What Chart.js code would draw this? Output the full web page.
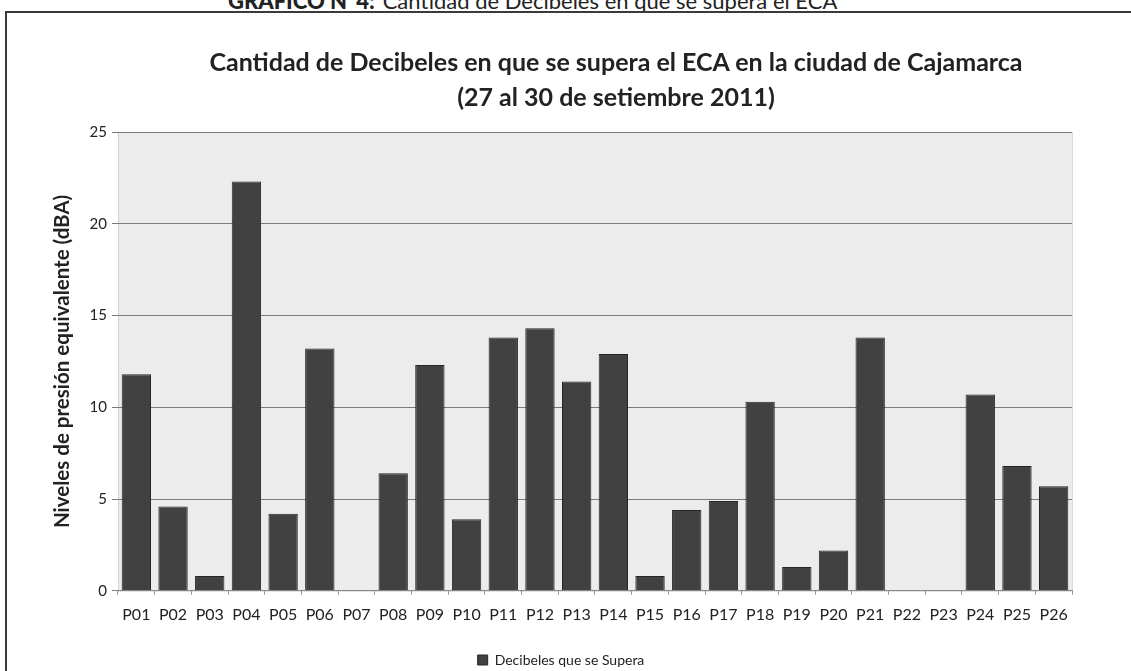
<!DOCTYPE html>
<html>
<head>
<meta charset="utf-8">
<script src="https://cdn.jsdelivr.net/npm/chart.js@4/dist/chart.umd.min.js"></script>
<style>
  html, body { margin: 0; padding: 0; background: #ffffff; overflow: hidden; }
  #wrap { position: relative; width: 1131px; height: 671px; overflow: hidden; }
  #header { position: absolute; left: 228px; top: -13px; font-family: Lato, sans-serif; font-size: 22px; color: #222; white-space: nowrap; }
  #header b { font-weight: 900; margin-right: 8px; }
  #frame { position: absolute; left: 5px; top: 11px; width: 1140px; height: 680px; border: 2px solid #3a3a3a; box-sizing: border-box; }
  #title { position: absolute; left: 116px; width: 1000px; top: 44px; text-align: center; font-family: Lato, sans-serif; font-weight: bold; font-size: 25px; line-height: 35px; color: #222; white-space: nowrap; }
  #c { position: absolute; left: 0; top: 0; }
</style>
</head>
<body>
<div id="wrap">
  <div id="header"><b>GRÁFICO N°4:</b>Cantidad de Decibeles en que se supera el ECA</div>
  <div id="frame"></div>
  <canvas id="c" width="1131" height="677"></canvas>
  <div id="title"></div>
</div>
<script>
const chartTitle = ['Cantidad de Decibeles en que se supera el ECA en la ciudad de Cajamarca', '(27 al 30 de setiembre 2011)'];
const yAxisTitle = 'Niveles de presión equivalente (dBA)';
const seriesName = 'Decibeles que se Supera';
const categories = ['P01','P02','P03','P04','P05','P06','P07','P08','P09','P10','P11','P12','P13','P14','P15','P16','P17','P18','P19','P20','P21','P22','P23','P24','P25','P26'];
const values = [11.8, 4.6, 0.8, 22.3, 4.2, 13.2, 0, 6.4, 12.3, 3.9, 13.8, 14.3, 11.4, 12.9, 0.8, 4.4, 4.9, 10.3, 1.3, 2.2, 13.8, 0, 0, 10.7, 6.8, 5.7];
const yTicks = [0, 5, 10, 15, 20, 25];

document.getElementById('title').innerHTML = chartTitle.map(t => '<div>' + t + '</div>').join('');

const plotBg = {
  id: 'plotBg',
  beforeDraw(chart) {
    const {ctx, chartArea: a} = chart;
    ctx.save();
    ctx.fillStyle = '#ececec';
    ctx.fillRect(a.left, a.top, a.right - a.left, a.bottom - a.top);
    ctx.strokeStyle = '#b8b8b8';
    ctx.setLineDash([1, 1]);
    ctx.lineWidth = 1;
    ctx.strokeRect(a.left + 0.5, a.top + 0.5, a.right - a.left, a.bottom - a.top);
    ctx.restore();
  }
};

new Chart(document.getElementById('c'), {
  type: 'bar',
  data: {
    labels: categories,
    datasets: [{
      label: seriesName,
      data: values,
      backgroundColor: '#414141',
      borderColor: '#262626',
      borderWidth: ctx => (ctx.raw === 0 ? 0 : 1),
      barPercentage: 0.8,
      categoryPercentage: 1.0
    }]
  },
  options: {
    responsive: false,
    animation: false,
    devicePixelRatio: 1,
    layout: { padding: { left: 50, right: 59, top: 132, bottom: 0 } },
    plugins: {
      title: { display: false },
      legend: {
        display: true,
        position: 'bottom',
        labels: {
          color: '#222',
          font: { family: 'Lato', size: 14 },
          boxWidth: 10,
          boxHeight: 10,
          padding: 9
        }
      },
      tooltip: { enabled: false }
    },
    scales: {
      x: {
        offset: true,
        grid: { display: true, drawOnChartArea: false, tickLength: 4, color: '#999' },
        border: { display: true, color: '#8a8a8a' },
        ticks: { color: '#222', font: { family: 'Lato', size: 16 }, padding: 10, maxRotation: 0, autoSkip: false },
        afterFit(scale) { scale.height += 10; }
      },
      y: {
        min: yTicks[0],
        max: yTicks[yTicks.length - 1],
        grid: { color: '#7a7a7a', lineWidth: 1, tickLength: 6 },
        border: { display: false },
        ticks: { stepSize: yTicks[1] - yTicks[0], color: '#222', font: { family: 'Lato', size: 15 }, padding: 5 },
        title: {
          display: true,
          text: yAxisTitle,
          color: '#222',
          font: { family: 'Lato', size: 20.5, weight: 'bold' },
          padding: { top: 0, bottom: 10 }
        }
      }
    }
  },
  plugins: [plotBg]
});
</script>
</body>
</html>
